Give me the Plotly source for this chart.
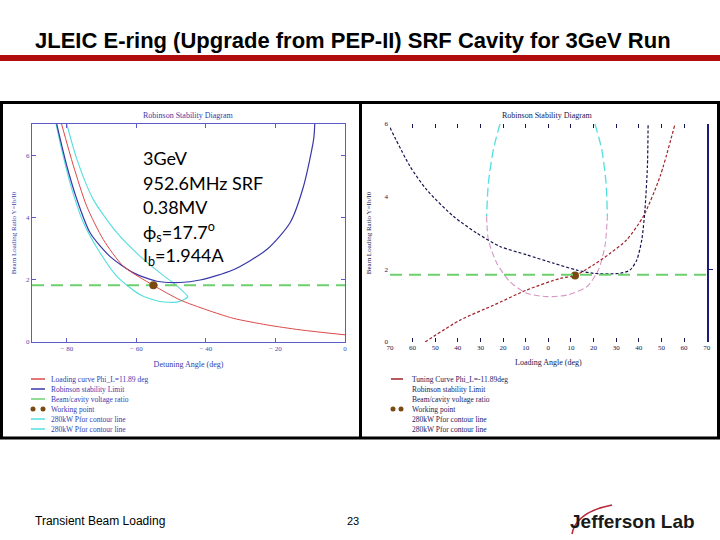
import plotly.graph_objects as go

W, H = 720, 540


def px(x):
    return x / W


def py(y):
    return 1 - y / H


# ---------------- data: left panel (Robinson stability diagram, detuning angle) -------------
left_loading_x = [-81.5, -78.1, -74.3, -69.5, -63.7, -55.1, -47.4, -39.7, -32.1, -22.5, -12.9, 0.0]
left_loading_y = [7.0, 5.66, 4.37, 3.29, 2.43, 1.82, 1.35, 1.03, 0.76, 0.55, 0.39, 0.23]

left_robinson_x = [-82.9, -80.0, -77.1, -73.3, -67.6, -60.8, -54.1, -47.4, -41.7, -32.1, -22.5, -15.8, -11.9, -9.0, -8.7]
left_robinson_y = [7.0, 5.66, 4.58, 3.51, 2.75, 2.22, 1.95, 1.91, 1.99, 2.32, 2.97, 3.83, 5.01, 6.52, 7.0]

left_ratio_x = [-90, 0]
left_ratio_y = [1.82, 1.82]

left_work_x = [-55.1]
left_work_y = [1.82]

left_pfor_a_x = [-83.1, -81.5, -79.1, -75.2, -70.4, -65.6, -58.9, -53.2, -48.4, -46.0, -45.1]
left_pfor_a_y = [7.0, 6.19, 5.12, 3.83, 2.86, 2.11, 1.52, 1.30, 1.28, 1.38, 1.46]
left_pfor_b_x = [-80.0, -77.1, -72.4, -65.6, -58.9, -53.2, -49.3, -46.5, -45.1]
left_pfor_b_y = [7.0, 5.87, 4.58, 3.51, 2.75, 2.22, 1.89, 1.62, 1.46]

left_xticks = [-80, -60, -40, -20, 0]
left_xticklabels = ["\u2212 80", "\u2212 60", "\u2212 40", "\u2212 20", "0"]
left_yticks = [0, 2, 4, 6]

# ---------------- data: right panel (loading angle) -------------
right_robinson_x = [-70, -61.2, -53.8, -42.0, -31.7, -21.4, -9.6, 2.2, 12.5, 19.9, 31.7, 36.1, 39.1, 41.3, 42.7, 43.8, 44.1]
right_robinson_y = [5.9, 4.84, 4.19, 3.46, 3.0, 2.63, 2.40, 2.17, 1.98, 1.89, 1.89, 1.98, 2.26, 2.81, 3.64, 4.84, 6.0]

right_tuning_x = [-54.5, -39.1, -24.3, -9.6, 5.2, 11.8, 19.9, 27.3, 34.6, 42.0, 49.4, 56.0]
right_tuning_y = [0.0, 0.6, 1.01, 1.43, 1.75, 1.83, 2.12, 2.44, 2.81, 3.46, 4.56, 6.0]

right_ratio_x = [-70, 70]
right_ratio_y = [1.85, 1.85]

right_work_x = [11.8]
right_work_y = [1.83]

right_pfor_left_x = [-21.4, -24.3, -26.5, -27.3]
right_pfor_left_y = [6.0, 5.3, 4.38, 3.46]
right_pfor_right_x = [20.6, 23.6, 25.5, 26.1]
right_pfor_right_y = [6.0, 5.3, 4.38, 3.46]
right_pfor_low_x = [-27.3, -26.5, -22.8, -17.0, -9.6, -0.7, 8.1, 17.0, 22.1, 25.0, 26.1]
right_pfor_low_y = [3.46, 2.81, 2.17, 1.66, 1.34, 1.25, 1.29, 1.52, 1.98, 2.63, 3.46]

right_xticks = [-70, -60, -50, -40, -30, -20, -10, 0, 10, 20, 30, 40, 50, 60, 70]
right_xticklabels = ["70", "60", "50", "40", "30", "20", "10", "0", "10", "20", "30", "40", "50", "60", "70"]
right_yticks = [0, 2, 4, 6]
right_limit_ticks = [2]

# ---------------- text -------------
title_text = "JLEIC E-ring (Upgrade from PEP-II) SRF Cavity for 3GeV Run"
panel_title = "Robinson Stability Diagram"
left_xlabel = "Detuning Angle (deg)"
right_xlabel = "Loading Angle (deg)"
ylabel = "Beam Loading Ratio Y=Ib/I0"
info_lines = ["3GeV", "952.6MHz SRF", "0.38MV",
              "\u03d5<sub>s</sub>=17.7<sup>o</sup>", "I<sub>b</sub>=1.944A"]
left_legend_labels = ["Loading curve Phi_L=11.89 deg", "Robinson stability Limit",
                      "Beam/cavity voltage ratio", "Working point",
                      "280kW Pfor contour line", "280kW Pfor contour line"]
right_legend_labels = ["Tuning Curve Phi_L=-11.89deg", "Robinson stability Limit",
                       "Beam/cavity voltage ratio", "Working point",
                       "280kW Pfor contour line", "280kW Pfor contour line"]
footer_left = "Transient Beam Loading"
footer_page = "23"
footer_logo = "Jefferson Lab"

# ---------------- styles -------------
C_LRED = "#dd4848"
C_LBLUE = "#3838a8"
C_GREEN = "#6cd06c"
C_CYAN = "#55dede"
C_BROWN = "#7a4a12"
C_NAVY = "#15154f"
C_DRED = "#a0222a"
C_PINK = "#d596c4"
AX_BLUE = "#5c5cc6"
SERIF = "Liberation Serif"

fig = go.Figure()


def add(x, y, color, width=1.0, dash=None, axes=("x", "y"), mode="lines", marker=None):
    kw = dict(x=x, y=y, mode=mode, xaxis=axes[0], yaxis=axes[1],
              showlegend=False, hoverinfo="skip")
    if mode == "lines":
        kw["line"] = dict(color=color, width=width, dash=dash, shape="spline", smoothing=0.7)
    else:
        kw["marker"] = marker
    fig.add_trace(go.Scatter(**kw))


# left panel
add(left_pfor_a_x, left_pfor_a_y, C_CYAN, 1.1)
add(left_pfor_b_x, left_pfor_b_y, C_CYAN, 1.1)
add(left_robinson_x, left_robinson_y, C_LBLUE, 1.2)
add(left_loading_x, left_loading_y, C_LRED, 1.0)
add(left_ratio_x, left_ratio_y, C_GREEN, 2.0, dash="12px,7px")
add(left_work_x, left_work_y, None, mode="markers",
    marker=dict(color=C_BROWN, size=8))

# right panel
R = ("x2", "y2")
add(right_pfor_left_x, right_pfor_left_y, C_CYAN, 1.3, dash="9px,4px", axes=R)
add(right_pfor_right_x, right_pfor_right_y, C_CYAN, 1.3, dash="9px,4px", axes=R)
add(right_pfor_low_x, right_pfor_low_y, C_PINK, 1.1, dash="6px,3px", axes=R)
add(right_robinson_x, right_robinson_y, C_NAVY, 1.2, dash="3px,2px", axes=R)
add(right_tuning_x, right_tuning_y, C_DRED, 1.2, dash="3px,2px", axes=R)
add(right_ratio_x, right_ratio_y, C_GREEN, 2.0, dash="12px,7px", axes=("x2", "y3"))
add(right_work_x, right_work_y, None, mode="markers", axes=R,
    marker=dict(color=C_BROWN, size=8))

tickfont_l = dict(family=SERIF, size=7, color="#4a4ab4")
tickfont_r = dict(family=SERIF, size=7, color=C_NAVY)
ydom = [py(342), py(124)]

fig.update_layout(
    width=W, height=H, margin=dict(l=0, r=0, t=0, b=0),
    paper_bgcolor="white", plot_bgcolor="white", showlegend=False,
    xaxis=dict(domain=[px(32), px(345)], range=[-90, 0], anchor="y",
               showline=True, linecolor=AX_BLUE, linewidth=1, mirror="ticks",
               ticks="inside", ticklen=4, tickcolor=AX_BLUE,
               tickvals=left_xticks, ticktext=left_xticklabels, tickfont=tickfont_l,
               showgrid=False, zeroline=False, automargin=False,
               title=dict(text=left_xlabel, font=dict(family=SERIF, size=8, color="#3a3aa8"),
                          standoff=8)),
    yaxis=dict(domain=ydom, range=[0, 7], anchor="x",
               showline=True, linecolor=AX_BLUE, linewidth=1, mirror="ticks",
               ticks="inside", ticklen=4, tickcolor=AX_BLUE,
               tickvals=left_yticks, tickfont=tickfont_l,
               showgrid=False, zeroline=False, automargin=False,
               title=dict(text=ylabel, font=dict(family=SERIF, size=7, color="#3a3aa8"),
                          standoff=8)),
    xaxis2=dict(domain=[px(390), px(706.7)], range=[-70, 70], anchor="y2",
                showline=False, mirror="ticks",
                ticks="inside", ticklen=4, tickcolor=C_NAVY,
                tickvals=right_xticks, ticktext=right_xticklabels, tickfont=tickfont_r,
                showgrid=False, zeroline=False, automargin=False,
                title=dict(text=right_xlabel, font=dict(family=SERIF, size=8, color=C_NAVY),
                           standoff=8)),
    yaxis2=dict(domain=ydom, range=[0, 6], anchor="x2",
                showline=False, ticks="", tickvals=right_yticks, tickfont=tickfont_r,
                ticklabelstandoff=1,
                showgrid=False, zeroline=False, automargin=False,
                title=dict(text=ylabel, font=dict(family=SERIF, size=7, color=C_NAVY),
                           standoff=12)),
    yaxis3=dict(domain=ydom, range=[0, 6], anchor="x2", overlaying="y2", side="right",
                showline=True, linecolor="#1c1c78", linewidth=1.6,
                ticks="outside", ticklen=4, tickcolor="#1c1c78", tickvals=right_limit_ticks,
                showticklabels=False, showgrid=False, zeroline=False, automargin=False),
)

P = dict(xref="paper", yref="paper", showarrow=False)

shapes = [
    # red rule under title
    dict(type="rect", xref="paper", yref="paper", x0=0, x1=1, y0=py(61), y1=py(55),
         fillcolor="#b10d0d", line=dict(width=0)),
    # black frame around the two pictures
    dict(type="rect", xref="paper", yref="paper", x0=px(1.5), x1=px(718.5),
         y0=py(438), y1=py(102.5), line=dict(color="black", width=3)),
    dict(type="line", xref="paper", yref="paper", x0=px(360.5), x1=px(360.5),
         y0=py(438), y1=py(102.5), line=dict(color="black", width=3)),
    # logo swoosh
    dict(type="path", xref="paper", yref="paper",
         path=f"M {px(572)},{py(534)} Q {px(576)},{py(512)} {px(612)},{py(505)}",
         line=dict(color="#b5283a", width=1.5)),
]

annotations = [
    dict(text="<b>" + title_text + "</b>", x=px(33), y=py(40), xanchor="left", yanchor="middle",
         font=dict(family="Liberation Sans", size=22, color="black"), **P),
    dict(text=panel_title, x=px(188), y=py(115), xanchor="center", yanchor="middle",
         font=dict(family=SERIF, size=8, color="#3a3aa8"), **P),
    dict(text=panel_title, x=px(547), y=py(115), xanchor="center", yanchor="middle",
         font=dict(family=SERIF, size=8, color=C_NAVY), **P),
    dict(text=footer_left, x=px(33), y=py(521), xanchor="left", yanchor="middle",
         font=dict(family="Liberation Sans", size=12, color="black"), **P),
    dict(text=footer_page, x=px(353), y=py(521), xanchor="center", yanchor="middle",
         font=dict(family="Liberation Sans", size=11, color="black"), **P),
    dict(text="<b>" + footer_logo + "</b>", x=px(568), y=py(521), xanchor="left", yanchor="middle",
         font=dict(family="Liberation Sans", size=19, color="#1a1a1a"), **P),
]

info_y = [158, 183, 207, 232, 256]
for t, yy in zip(info_lines, info_y):
    annotations.append(dict(text=t, x=px(141), y=py(yy), xanchor="left", yanchor="middle",
                            font=dict(family="Lato", size=18, color="black"), **P))

# legends (drawn as text with small samples, like the original figure legends)
leg_y = [379, 389, 399, 409, 419, 429]
left_samples = [("line", C_LRED), ("line", C_LBLUE), ("line", C_GREEN),
                ("dots", C_BROWN), ("line", C_CYAN), ("line", C_CYAN)]
right_samples = [("line", C_DRED), (None, None), (None, None),
                 ("dots", C_BROWN), (None, None), (None, None)]
for (x_line0, x_line1, x_text, labels, samples, tcol) in [
        (31, 45, 49, left_legend_labels, left_samples, "#3a3ab0"),
        (391, 403, 410, right_legend_labels, right_samples, "#1a1a60")]:
    for lab, (kind, col), yy in zip(labels, samples, leg_y):
        annotations.append(dict(text=lab, x=px(x_text), y=py(yy), xanchor="left", yanchor="middle",
                                font=dict(family=SERIF, size=7.5, color=tcol), **P))
        if kind == "line":
            shapes.append(dict(type="line", xref="paper", yref="paper",
                               x0=px(x_line0), x1=px(x_line1), y0=py(yy), y1=py(yy),
                               line=dict(color=col, width=1.5)))
        elif kind == "dots":
            for cx in (x_line0 + 2, x_line1 - 2):
                shapes.append(dict(type="circle", xref="paper", yref="paper",
                                   x0=px(cx - 2.5), x1=px(cx + 2.5), y0=py(yy + 2.5), y1=py(yy - 2.5),
                                   fillcolor=col, line=dict(width=0)))

fig.update_layout(shapes=shapes, annotations=annotations)
fig.write_html("out.html")
